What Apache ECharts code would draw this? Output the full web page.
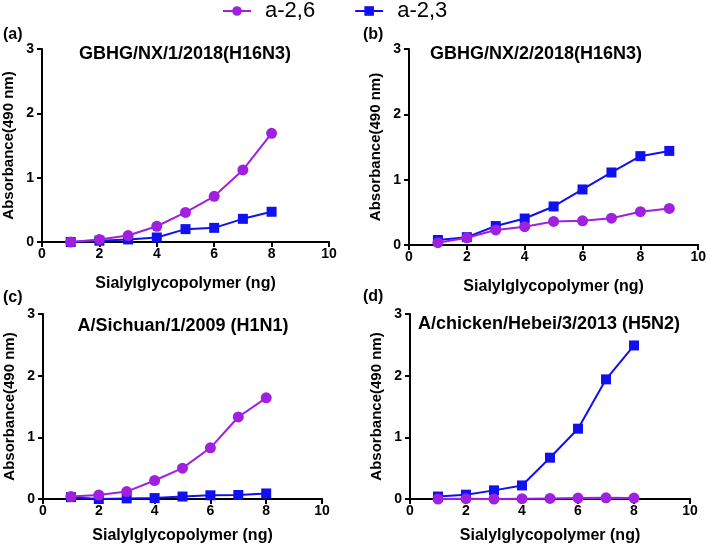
<!DOCTYPE html>
<html>
<head>
<meta charset="utf-8">
<script src="https://cdn.jsdelivr.net/npm/echarts@6/dist/echarts.min.js"></script>
<style>html,body{margin:0;padding:0;background:#fff}#c{width:709px;height:545px}</style>
</head>
<body>
<div id="c"></div>
<script>
var seriesNames = ['a-2,6', 'a-2,3'];
var panelLabels = ['(a)', '(b)', '(c)', '(d)'];
var panelTitles = ['GBHG/NX/1/2018(H16N3)', 'GBHG/NX/2/2018(H16N3)', 'A/Sichuan/1/2009 (H1N1)', 'A/chicken/Hebei/3/2013 (H5N2)'];
var xName = 'Sialylglycopolymer (ng)';
var yName = 'Absorbance(490 nm)';

var xA = [1, 2, 3, 4, 5, 6, 7, 8];
var a26_A = [0.00, 0.04, 0.10, 0.245, 0.46, 0.71, 1.12, 1.69];
var a23_A = [0.00, 0.02, 0.04, 0.07, 0.20, 0.22, 0.36, 0.47];

var xB = [1, 2, 3, 4, 5, 6, 7, 8, 9];
var a26_B = [0.036, 0.11, 0.23, 0.28, 0.36, 0.37, 0.41, 0.51, 0.56];
var a23_B = [0.077, 0.12, 0.29, 0.405, 0.59, 0.85, 1.11, 1.36, 1.44];

var xC = [1, 2, 3, 4, 5, 6, 7, 8];
var a26_C = [0.04, 0.065, 0.12, 0.30, 0.50, 0.83, 1.33, 1.64];
var a23_C = [0.03, 0.00, 0.01, 0.015, 0.04, 0.06, 0.065, 0.09];

var xD = [1, 2, 3, 4, 5, 6, 7, 8];
var a26_D = [0.00, 0.005, 0.00, 0.005, 0.01, 0.015, 0.02, 0.015];
var a23_D = [0.04, 0.07, 0.14, 0.22, 0.67, 1.14, 1.94, 2.49];

var panels = [
  {x: xA, p: a26_A, b: a23_A},
  {x: xB, p: a26_B, b: a23_B},
  {x: xC, p: a26_C, b: a23_C},
  {x: xD, p: a26_D, b: a23_D}
];

var PURPLE = '#a020e0';
var BLUE = '#1010f0';
var FONT = '"Liberation Sans", Arial, sans-serif';

var grids = [
  {left: 41, top: 49, width: 288, height: 193},
  {left: 409, top: 49, width: 292, height: 196},
  {left: 43, top: 314, width: 279, height: 185},
  {left: 410, top: 314, width: 280, height: 185}
];
var titlePos = [
  {x: 185, y: 45},
  {x: 536, y: 45},
  {x: 183, y: 317},
  {x: 549, y: 315}
];
var labelPos = [
  {x: 3, y: 27}, {x: 363, y: 27}, {x: 3, y: 290}, {x: 363, y: 289}
];

function pairs(xs, ys) { return xs.map(function (v, i) { return [v, ys[i]]; }); }

var option = {
  animation: false,
  textStyle: {fontFamily: FONT},
  legend: {
    data: seriesNames,
    top: 0,
    left: 222,
    padding: 0,
    itemWidth: 28,
    itemHeight: 12,
    itemGap: 39,
    textStyle: {fontSize: 22, color: '#000', fontFamily: FONT, padding: [0, 0, 0, 9]}
  },
  title: [],
  grid: grids,
  xAxis: [],
  yAxis: [],
  series: []
};

panels.forEach(function (pn, i) {
  option.title.push({
    text: panelTitles[i], left: titlePos[i].x, top: titlePos[i].y, textAlign: 'center', padding: 0,
    textStyle: {fontSize: 18, fontWeight: 'bold', color: '#000', fontFamily: FONT}
  });
  option.title.push({
    text: panelLabels[i], left: labelPos[i].x, top: labelPos[i].y, padding: 0,
    textStyle: {fontSize: 16, fontWeight: 'bold', color: '#000', fontFamily: FONT}
  });
  option.xAxis.push({
    type: 'value', gridIndex: i, min: 0, max: 10, interval: 2,
    name: xName, nameLocation: 'middle', nameGap: i < 2 ? 34 : 29,
    nameTextStyle: {fontSize: 16, fontWeight: 'bold', color: '#000', fontFamily: FONT},
    axisLine: {show: true, lineStyle: {color: '#000', width: 2}},
    axisTick: {show: true, length: 5, lineStyle: {color: '#000', width: 2}},
    axisLabel: {fontSize: 14, fontWeight: 'bold', color: '#000', margin: 5, fontFamily: FONT},
    splitLine: {show: false}
  });
  option.yAxis.push({
    type: 'value', gridIndex: i, min: 0, max: 3, interval: 1,
    name: yName, nameLocation: 'middle', nameGap: 26,
    nameTextStyle: {fontSize: 15, fontWeight: 'bold', color: '#000', fontFamily: FONT},
    axisLine: {show: true, lineStyle: {color: '#000', width: 2}},
    axisTick: {show: true, length: 5, lineStyle: {color: '#000', width: 2}},
    axisLabel: {fontSize: 14, fontWeight: 'bold', color: '#000', margin: 8, fontFamily: FONT},
    splitLine: {show: false}
  });
  option.series.push({
    name: seriesNames[0], type: 'line', xAxisIndex: i, yAxisIndex: i,
    data: pairs(pn.x, pn.p), symbol: 'circle', symbolSize: 11,
    lineStyle: {color: PURPLE, width: 2}, itemStyle: {color: PURPLE}, z: 3
  });
  option.series.push({
    name: seriesNames[1], type: 'line', xAxisIndex: i, yAxisIndex: i,
    data: pairs(pn.x, pn.b), symbol: 'rect', symbolSize: 10,
    lineStyle: {color: BLUE, width: 2}, itemStyle: {color: BLUE}, z: 2
  });
});

var chart = echarts.init(document.getElementById('c'), null, {renderer: 'canvas'});
chart.setOption(option);
</script>
</body>
</html>
